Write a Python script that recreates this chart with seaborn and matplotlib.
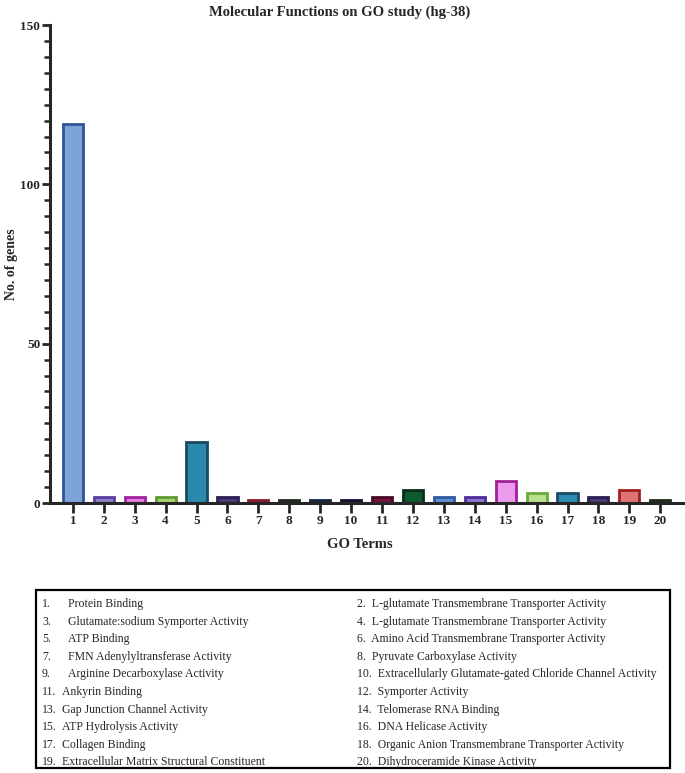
import numpy as np
import pandas as pd
import matplotlib.pyplot as plt
import seaborn as sns
from matplotlib.patches import Rectangle
from matplotlib.ticker import MultipleLocator

# GO molecular function terms and gene counts
term_ids = [str(i) for i in range(1, 21)]
go_terms = ["Protein Binding",
            "L-glutamate Transmembrane Transporter Activity",
            "Glutamate:sodium Symporter Activity",
            "L-glutamate Transmembrane Transporter Activity",
            "ATP Binding",
            "Amino Acid Transmembrane Transporter Activity",
            "FMN Adenylyltransferase Activity",
            "Pyruvate Carboxylase Activity",
            "Arginine Decarboxylase Activity",
            "Extracellularly Glutamate-gated Chloride Channel Activity",
            "Ankyrin Binding",
            "Symporter Activity",
            "Gap Junction Channel Activity",
            "Telomerase RNA Binding",
            "ATP Hydrolysis Activity",
            "DNA Helicase Activity",
            "Collagen Binding",
            "Organic Anion Transmembrane Transporter Activity",
            "Extracellular Matrix Structural Constituent",
            "Dihydroceramide Kinase Activity"]
gene_counts = [119, 2, 2, 2, 19, 2, 1, 1, 1, 1, 2, 4, 2, 2, 7, 3, 3, 2, 4, 1]

fill_colors = ["#7ea3d8", "#8c7cc8", "#e57ee0", "#a8d36e", "#2c88ad",
               "#4a3b78", "#c4283f", "#34412f", "#1f3b5e", "#2d1b52",
               "#7c1243", "#0d5a2c", "#5d8fd4", "#8b74cf", "#ec9aec",
               "#b9e08b", "#2b8db3", "#4a3b78", "#e07373", "#34412f"]
edge_colors = ["#2f5597", "#5a3ea1", "#a1249d", "#5e9a2f", "#1a4a66",
               "#2b1f50", "#8b1a2b", "#1f2a1c", "#12263f", "#1a0f33",
               "#4a0a28", "#0a2e1a", "#2e5aa0", "#4c2d9b", "#a0209a",
               "#6aaa3a", "#1a4a66", "#2b1f50", "#a02020", "#1f2a1c"]

df = pd.DataFrame({"term": term_ids, "genes": gene_counts})

sns.set_style("ticks")
plt.rcParams['font.family'] = ['Liberation Serif', 'DejaVu Serif']

fig = plt.figure(figsize=(6.85, 7.73), dpi=100)
W, H = 685, 773
ax = fig.add_axes([50 / W, 1 - 503 / H, 635 / W, 478 / H])

sns.barplot(data=df, x="term", y="genes", hue="term", palette=fill_colors,
            legend=False, width=0.65, saturation=1, linewidth=2, ax=ax)
for cont, ec in zip(ax.containers, edge_colors):
    for bar in cont:
        bar.set_edgecolor(ec)

ax.set_ylim(0, 150)
ax.set_xlim(-0.74, 19.8)
ax.yaxis.set_major_locator(MultipleLocator(50))
ax.yaxis.set_minor_locator(MultipleLocator(5))
sns.despine(ax=ax)
for s in ["left", "bottom"]:
    ax.spines[s].set_linewidth(2.2)
ax.tick_params(axis="y", which="major", length=6, width=2, pad=1, labelsize=9.5)
ax.tick_params(axis="y", which="minor", length=4, width=1.8)
ax.tick_params(axis="x", length=7, width=2, pad=2, labelsize=9.5)
for lab in ax.get_xticklabels() + ax.get_yticklabels():
    lab.set_fontweight("bold")

ax.set_xlabel("")
ax.set_ylabel("No. of genes", fontsize=10, fontweight="bold", labelpad=2)
fig.text(360 / W, 1 - 545 / H, "GO Terms", ha="center", va="center",
         fontsize=10.5, fontweight="bold")
fig.text(340 / W, 1 - 12 / H, "Molecular Functions on GO study (hg-38)",
         ha="center", va="center", fontsize=10.5, fontweight="bold")

# key box with term names
fig.patches.append(Rectangle((36 / W, 1 - 768 / H), 634 / W, 178 / H,
                             transform=fig.transFigure, fill=False,
                             edgecolor="black", linewidth=1.6))
for i, (tid, name) in enumerate(zip(term_ids, go_terms)):
    row = i // 2
    y = 1 - (604 + row * 17.6) / H
    if i % 2 == 0:
        fig.text(42 / W, y, tid + ".", fontsize=8.5, va="center")
        xoff = 68 if len(tid) == 1 else 62
        fig.text(xoff / W, y, name, fontsize=8.5, va="center")
    else:
        fig.text(357 / W, y, tid + ".  " + name, fontsize=8.5, va="center")

fig.savefig("out.png", dpi=100)
